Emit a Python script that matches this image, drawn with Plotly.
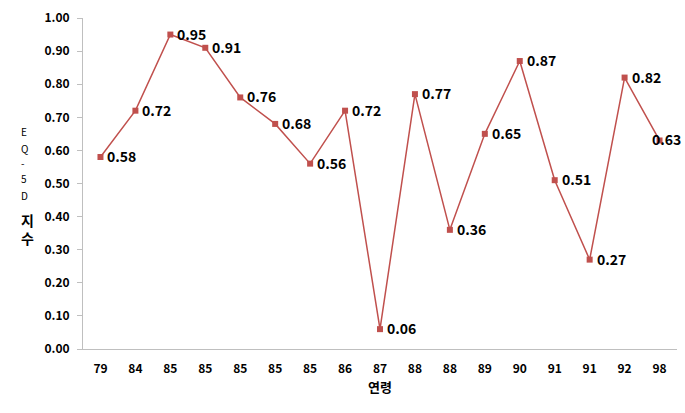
import plotly.graph_objects as go

ages = ["79", "84", "85", "85", "85", "85", "85", "86", "87", "88", "88", "89", "90", "91", "91", "92", "98"]
eq5d = [0.58, 0.72, 0.95, 0.91, 0.76, 0.68, 0.56, 0.72, 0.06, 0.77, 0.36, 0.65, 0.87, 0.51, 0.27, 0.82, 0.63]
y_ticks = [0.0, 0.1, 0.2, 0.3, 0.4, 0.5, 0.6, 0.7, 0.8, 0.9, 1.0]
y_title_chars = ["E", "Q", "-", "5", "D"]
y_title_word = ["지", "수"]

pos = list(range(len(ages)))
font_fam = "Noto Sans CJK KR, Open Sans, sans-serif"

L, R, T, B = 83, 8, 13, 64
W, H = 685, 413
plot_w = W - L - R
plot_h = H - T - B


def px_to_paper(px, py):
    return (px - L) / plot_w, (H - B - py) / plot_h


fig = go.Figure()
fig.add_trace(go.Scatter(
    x=pos, y=eq5d, mode="lines+markers",
    line=dict(color="#c0504d", width=1.5),
    marker=dict(symbol="square", size=6, color="#c0504d"),
    showlegend=False,
))

fig.update_layout(
    width=W, height=H,
    margin=dict(l=L, r=R, t=T, b=B),
    plot_bgcolor="white", paper_bgcolor="white",
    font=dict(family=font_fam, color="black"),
    xaxis=dict(
        range=[-0.5, len(ages) - 0.5],
        tickmode="array", tickvals=pos, ticktext=[f"<b>{a}</b>" for a in ages],
        showgrid=False, zeroline=False,
        showline=True, linecolor="#bfbfbf", linewidth=1,
        ticks="", tickfont=dict(size=12), ticklabelstandoff=9,
        title=dict(text="<b>연령</b>", font=dict(size=13), standoff=7),
    ),
    yaxis=dict(
        range=[0, 1.0],
        tickmode="array", tickvals=y_ticks, ticktext=[f"<b>{v:.2f}</b>" for v in y_ticks],
        showgrid=False, zeroline=False,
        showline=True, linecolor="#bfbfbf", linewidth=1,
        ticks="outside", ticklen=5, tickcolor="#bfbfbf",
        tickfont=dict(size=12), ticklabelstandoff=5,
    ),
)

# data labels
for i, (xp, v) in enumerate(zip(pos, eq5d)):
    last = i == len(eq5d) - 1
    fig.add_annotation(
        x=xp, y=v, xref="x", yref="y", text=f"<b>{v:.2f}</b>",
        showarrow=False, font=dict(size=14, color="black"),
        xanchor="center" if last else "left",
        xshift=7 if last else 5, yshift=1,
    )

ys = [128, 145, 160, 176, 193]
for ch, py in zip(y_title_chars, ys):
    ax, ay = px_to_paper(19, py)
    fig.add_annotation(text=ch, x=ax, y=ay, xref="paper", yref="paper",
                       showarrow=False, font=dict(size=10))
for ch, py in zip(y_title_word, [218, 236]):
    ax, ay = px_to_paper(19, py)
    fig.add_annotation(text=f"<b>{ch}</b>", x=ax, y=ay, xref="paper", yref="paper",
                       showarrow=False, font=dict(size=14))

fig.write_html("out.html")
